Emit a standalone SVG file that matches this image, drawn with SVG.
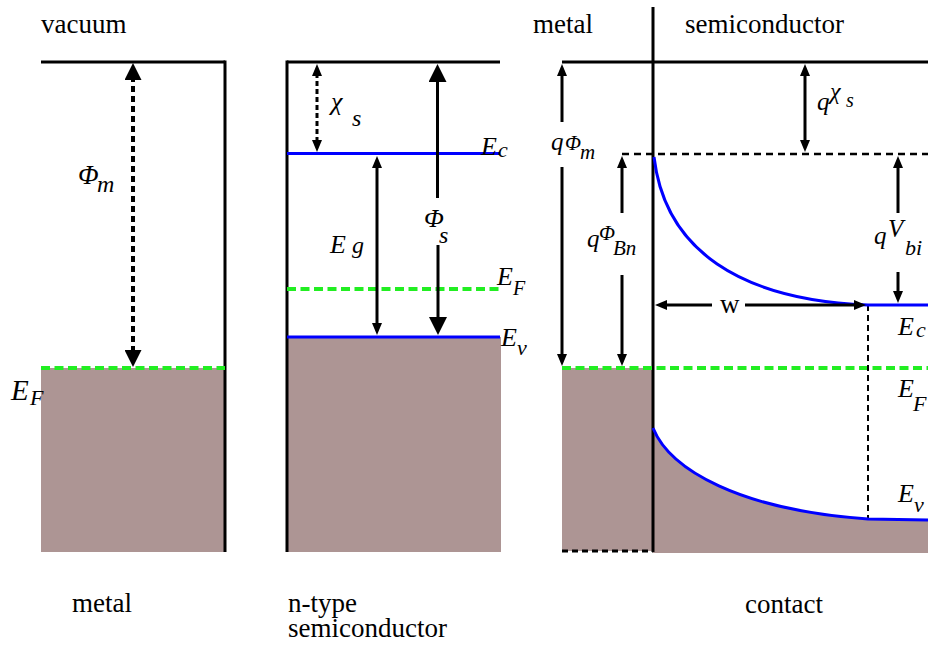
<svg xmlns="http://www.w3.org/2000/svg" width="930" height="646" viewBox="0 0 930 646">
<style>
text{font-family:'Liberation Serif','DejaVu Serif',serif;fill:#000}
.t{font-size:27px}
.i{font-style:italic}
.ln{stroke:#000;stroke-width:3;fill:none}
.ar{stroke:#000;stroke-width:3;fill:none}
.blue{stroke:#0000ff;stroke-width:3;fill:none}
.green{stroke:#22ee22;stroke-width:4;stroke-dasharray:9 4.5;fill:none}
.fill{fill:#ad9594}
</style>
<defs>
<marker id="mbig" viewBox="0 0 17 17" refX="4" refY="8.5" markerWidth="17" markerHeight="17" markerUnits="userSpaceOnUse" orient="auto-start-reverse"><path d="M0,0 L17,8.5 L0,17 z" fill="#000"/></marker>
<marker id="ms" viewBox="0 0 12 10" refX="3" refY="5" markerWidth="12" markerHeight="10" markerUnits="userSpaceOnUse" orient="auto-start-reverse"><path d="M0,0 L12,5 L0,10 z" fill="#000"/></marker>
<marker id="mb" viewBox="0 0 18 18" refX="4" refY="9" markerWidth="18" markerHeight="18" markerUnits="userSpaceOnUse" orient="auto-start-reverse"><path d="M0,0 L18,9 L0,18 z" fill="#000"/></marker>
</defs>

<g id="panel-metal">
<rect class="fill" x="41" y="368" width="184" height="184"/>
<line class="ln" x1="41" y1="62" x2="225" y2="62"/>
<line class="ln" x1="225" y1="60.5" x2="225" y2="552"/>
<line class="green" x1="41" y1="368" x2="225" y2="368"/>
<text class="t" x="41" y="33">vacuum</text>
<text class="t" x="72" y="612">metal</text>
<text class="i"><tspan x="11" y="400" font-size="29">E</tspan><tspan x="30" y="405" font-size="22">F</tspan></text>
<text class="i"><tspan x="78" y="184" font-size="27">Φ</tspan><tspan x="97" y="192" font-size="24">m</tspan></text>
</g>

<g id="panel-semiconductor">
<rect class="fill" x="287" y="337" width="214" height="215"/>
<line class="ln" x1="287" y1="62" x2="500" y2="62"/>
<line class="ln" x1="287" y1="60.5" x2="287" y2="552"/>
<line class="blue" x1="287" y1="153.5" x2="500" y2="153.5"/>
<line class="green" x1="287" y1="289" x2="500" y2="289"/>
<line class="blue" x1="287" y1="337" x2="500" y2="337"/>
<text class="i"><tspan x="481" y="155" font-size="26">E</tspan><tspan x="498" y="157" font-size="22">c</tspan></text>
<text class="i"><tspan x="497" y="285" font-size="26">E</tspan><tspan x="513" y="295" font-size="20">F</tspan></text>
<text class="i"><tspan x="501" y="346" font-size="26">E</tspan><tspan x="517" y="355" font-size="22">v</tspan></text>
<text class="i"><tspan x="331" y="110" font-size="26">χ</tspan><tspan x="352" y="126" font-size="24">s</tspan></text>
<text class="i"><tspan x="330" y="253" font-size="26">E</tspan><tspan x="352" y="253" font-size="24">g</tspan></text>
<text class="i"><tspan x="424" y="227" font-size="26">Φ</tspan><tspan x="439" y="243" font-size="24">s</tspan></text>
<text class="t"><tspan x="288" y="612">n-type</tspan><tspan x="288" y="637">semiconductor</tspan></text>
</g>

<g id="panel-contact">
<rect class="fill" x="562" y="368" width="91" height="183"/>
<path class="fill" d="M653,428 C670,470 740,510 868,519 L928,520 L928,553 L653,553 z"/>
<line class="ln" x1="562" y1="62" x2="928" y2="62"/>
<line class="ln" x1="653" y1="7" x2="653" y2="552"/>
<line x1="622" y1="154" x2="928" y2="154" stroke="#000" stroke-width="2.5" stroke-dasharray="7 5"/>
<line class="green" x1="562" y1="368" x2="928" y2="368"/>
<line x1="562" y1="551" x2="653" y2="551" stroke="#000" stroke-width="3" stroke-dasharray="6 4"/>
<line x1="868" y1="305" x2="868" y2="519" stroke="#000" stroke-width="2" stroke-dasharray="6 4"/>
<path class="blue" d="M654,157 C665,250 740,300 868,305 L928,305"/>
<path class="blue" d="M653,428 C670,470 740,510 868,519 L928,520"/>
<text class="t" x="533" y="33">metal</text>
<text class="t" x="685" y="33">semiconductor</text>
<text class="t" x="745" y="613">contact</text>
<text class="i"><tspan x="551" y="150" font-size="25">q</tspan><tspan x="565" y="150" font-size="21">Φ</tspan><tspan x="580" y="159" font-size="21">m</tspan></text>
<text class="i"><tspan x="587" y="247" font-size="25">q</tspan><tspan x="599" y="240" font-size="21">Φ</tspan><tspan x="613" y="255" font-size="21">Bn</tspan></text>
<text class="i"><tspan x="817" y="110" font-size="25">q</tspan><tspan x="830" y="99" font-size="24">χ</tspan><tspan x="846" y="107" font-size="20">s</tspan></text>
<text class="i"><tspan x="874" y="244" font-size="25">q</tspan><tspan x="888" y="237" font-size="25">V</tspan><tspan x="905" y="255" font-size="22">bi</tspan></text>
<text class="t" x="720" y="313" font-size="26">w</text>
<text class="i"><tspan x="898" y="335" font-size="26">E</tspan><tspan x="916" y="337" font-size="22">c</tspan></text>
<text class="i"><tspan x="898" y="397" font-size="26">E</tspan><tspan x="913" y="411" font-size="22">F</tspan></text>
<text class="i"><tspan x="898" y="502" font-size="26">E</tspan><tspan x="914" y="512" font-size="22">v</tspan></text>
</g>

<g id="connectors">
<line x1="133" y1="76" x2="133" y2="354" stroke="#000" stroke-width="4" stroke-dasharray="6 4" marker-start="url(#mbig)" marker-end="url(#mbig)"/>
<line x1="317" y1="73" x2="317" y2="143" stroke="#000" stroke-width="3" stroke-dasharray="5 3" marker-start="url(#ms)" marker-end="url(#ms)"/>
<line class="ar" x1="377" y1="165" x2="377" y2="326" marker-start="url(#ms)" marker-end="url(#ms)"/>
<line class="ar" x1="437.5" y1="198" x2="437.5" y2="78" marker-end="url(#mb)"/>
<line class="ar" x1="438" y1="245" x2="438" y2="321" marker-end="url(#mb)"/>
<line class="ar" x1="562" y1="122" x2="562" y2="73" marker-end="url(#ms)"/>
<line class="ar" x1="562" y1="167" x2="562" y2="357" marker-end="url(#ms)"/>
<line class="ar" x1="622" y1="213" x2="622" y2="165" marker-end="url(#ms)"/>
<line class="ar" x1="622" y1="275" x2="622" y2="357" marker-end="url(#ms)"/>
<line class="ar" x1="805" y1="73" x2="805" y2="143" marker-start="url(#ms)" marker-end="url(#ms)"/>
<line class="ar" x1="898" y1="213" x2="898" y2="165" marker-end="url(#ms)"/>
<line class="ar" x1="898" y1="272" x2="898" y2="294" marker-end="url(#ms)"/>
<line class="ar" x1="712" y1="305" x2="664" y2="305" marker-end="url(#ms)"/>
<line class="ar" x1="745" y1="305" x2="857" y2="305" marker-end="url(#ms)"/>
</g>
</svg>
